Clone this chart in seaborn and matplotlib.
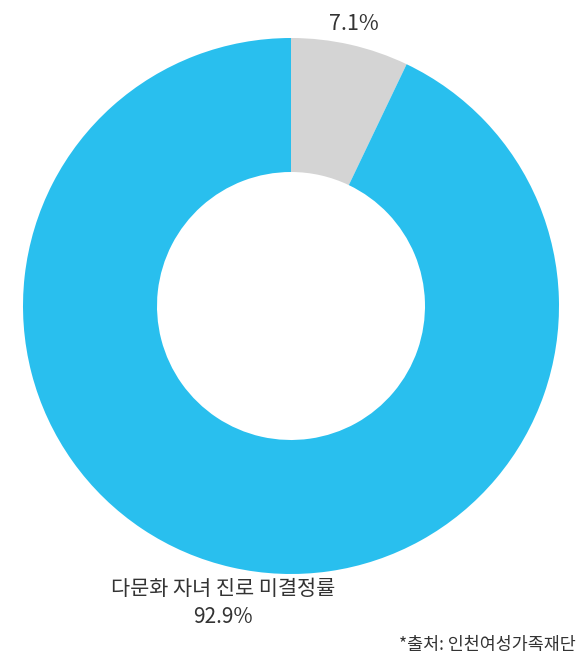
import seaborn as sns
import matplotlib.pyplot as plt

labels = ["다문화 자녀 진로 미결정률", "기타"]
values = [92.9, 7.1]
pct_labels = ["92.9%", "7.1%"]
colors = ["#29BFEE", "#D4D4D4"]
source = "*출처: 인천여성가족재단"

sns.set_theme(style="white")
plt.rcParams['font.family'] = ['Noto Sans CJK KR', 'DejaVu Sans']

fig = plt.figure(figsize=(5.8, 6.58), dpi=100)
ax = fig.add_axes([0, 0, 1, 1])

# gray slice first, starting at 12 o'clock, going clockwise
ax.pie(values[::-1], colors=colors[::-1], startangle=90, counterclock=False,
       center=(291, 352), radius=268,
       wedgeprops=dict(width=134, edgecolor="none"))

# pie resets limits, so set pixel-like coordinates afterwards
ax.set_xlim(0, 580)
ax.set_ylim(0, 658)
ax.set_aspect("equal")
ax.axis("off")

ax.text(354, 634, pct_labels[1], ha="center", va="center", fontsize=15.5, color="#333333")
ax.text(223, 55, labels[0] + "\n" + pct_labels[0], ha="center", va="center",
        fontsize=15, color="#333333", linespacing=1.36)
ax.text(576, 13, source, ha="right", va="center", fontsize=12.5, color="#333333")

fig.savefig("out.png", dpi=100)
